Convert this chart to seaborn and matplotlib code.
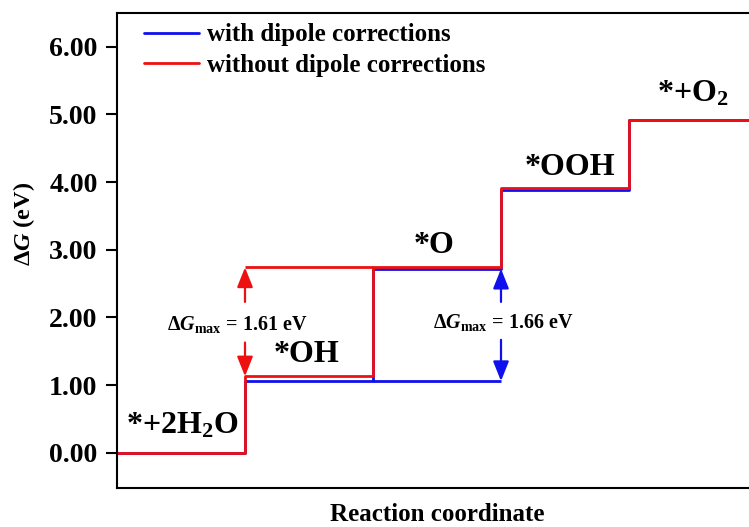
import matplotlib
matplotlib.use("Agg")
import matplotlib.pyplot as plt
import seaborn as sns
import pandas as pd

# Free-energy levels along the OER pathway (eV)
steps = ["*+2H2O", "*OH", "*O", "*OOH", "*+O2"]
dg_with_dipole = [0.00, 1.06, 2.72, 3.88, 4.92]
dg_without_dipole = [0.00, 1.13, 2.74, 3.92, 4.92]
series_names = ["with dipole corrections", "without dipole corrections"]
step_labels = [r"*+2H$_\mathregular{2}$O", "*OH", "*O", "*OOH", r"*+O$_\mathregular{2}$"]
dgmax_with = 1.66
dgmax_without = 1.61
yticks = [0, 1, 2, 3, 4, 5, 6]

sns.set_theme(style="white")
plt.rcParams.update({
    "font.family": ["Liberation Serif", "DejaVu Serif"],
    "font.weight": "bold",
    "text.color": "black",
    "axes.labelcolor": "black",
    "ytick.color": "black",
    "mathtext.fontset": "custom",
    "mathtext.rm": "Liberation Serif:bold",
    "mathtext.it": "Liberation Serif:italic:bold",
    "mathtext.bf": "Liberation Serif:bold",
})

BLUE = "#1010ee"
RED = "#ee1010"

def step_frame(values, name):
    xs = list(range(len(values) + 1))
    ys = list(values) + [values[-1]]
    return pd.DataFrame({"x": xs, "dG": ys, "series": name})

df = pd.concat([step_frame(dg_with_dipole, series_names[0]),
                step_frame(dg_without_dipole, series_names[1])])

fig = plt.figure(figsize=(7.49, 5.27), dpi=100)
ax = fig.add_axes([117 / 749, 39 / 527, 640 / 749, 475 / 527])

palette = {series_names[0]: BLUE, series_names[1]: RED}
sns.lineplot(data=df, x="x", y="dG", hue="series", palette=palette,
             drawstyle="steps-post", linewidth=2.0, ax=ax, legend=True,
             estimator=None, sort=False)

# guide lines marking the potential-determining step
ax.hlines(dg_without_dipole[2], 1, 2, color=RED, lw=2.0, zorder=3)
ax.hlines(dg_with_dipole[1], 2, 3, color=BLUE, lw=2.0, zorder=1)

# double arrows with labels
def dg_arrow(x, lo, hi, gap_lo, gap_hi, color):
    kw = dict(arrowstyle="-|>,head_width=0.4,head_length=1.0", color=color, lw=1.6,
              shrinkA=0, shrinkB=0)
    ax.annotate("", xy=(x, hi), xytext=(x, gap_hi), arrowprops=kw)
    ax.annotate("", xy=(x, lo), xytext=(x, gap_lo), arrowprops=kw)

dg_arrow(1.0, dg_without_dipole[1], dg_without_dipole[2], 1.63, 2.23, RED)
dg_arrow(3.0, dg_with_dipole[1], dg_with_dipole[2], 1.67, 2.23, BLUE)
ax.text(0.94, 1.90, r"$\Delta\mathit{G}_{\mathregular{max}}$ = %.2f eV" % dgmax_without,
        ha="center", va="center", fontsize=14.5)
ax.text(3.02, 1.93, r"$\Delta\mathit{G}_{\mathregular{max}}$ = %.2f eV" % dgmax_with,
        ha="center", va="center", fontsize=14.5)

# step labels
label_pos = [(0.51, 0.40), (1.48, 1.45), (2.48, 3.07), (3.54, 4.22), (4.5, 5.3)]
for lab, (lx, ly) in zip(step_labels, label_pos):
    ax.text(lx, ly, lab, ha="center", va="center", fontsize=23, fontweight="bold")

ax.set_xlim(0, 5)
ax.set_ylim(-0.52, 6.5)
ax.set_yticks(yticks)
ax.set_yticklabels([f"{v:.2f}" for v in yticks], fontsize=20, fontweight="bold")
ax.set_xticks([])
ax.tick_params(axis="y", direction="out", length=8, width=1.5, left=True, pad=6)
for s in ax.spines.values():
    s.set_linewidth(1.5)
    s.set_color("black")
ax.spines["right"].set_visible(False)

ax.set_xlabel("Reaction coordinate", fontsize=18, fontweight="bold", labelpad=11)
ax.set_ylabel(r"$\Delta\mathit{G}$ (eV)", fontsize=17.5, fontweight="bold")
ax.yaxis.set_label_coords(-0.125, 0.556)

leg = ax.legend(loc="upper left", frameon=False, fontsize=18, handlelength=2.2,
                handletextpad=0.3, borderaxespad=0.3, labelspacing=0.3,
                bbox_to_anchor=(0.015, 1.015))
for t in leg.get_texts():
    t.set_fontweight("bold")

fig.savefig("out.png", dpi=100)
